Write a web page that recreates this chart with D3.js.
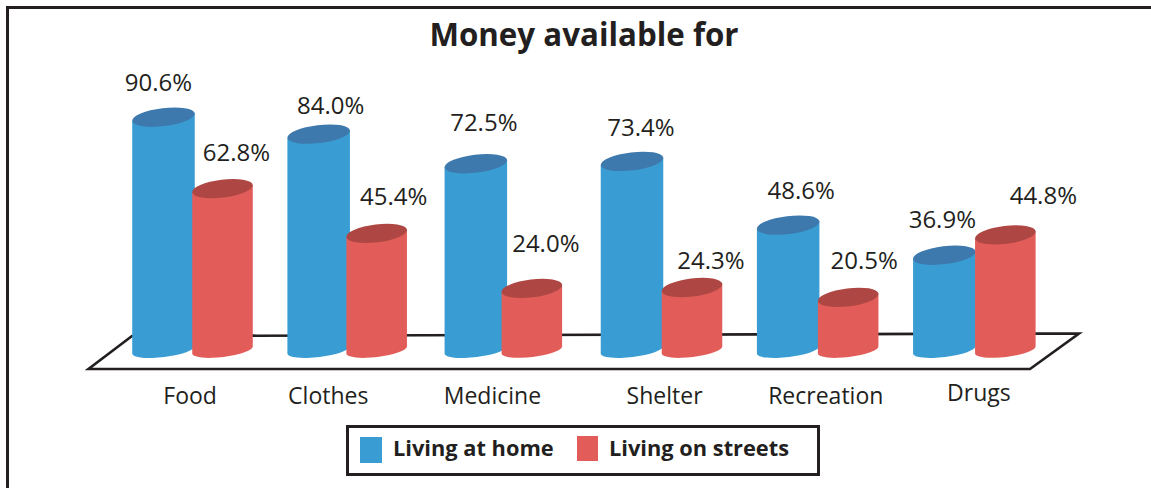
<!DOCTYPE html>
<html><head><meta charset="utf-8">
<script src="https://cdn.jsdelivr.net/npm/d3@7"></script>
<style>html,body{margin:0;background:#fff}svg{display:block}text{font-family:"Open Sans",sans-serif;fill:#231f20}</style>
</head><body><svg id="c" width="1151" height="488"></svg>
<script>
const categories=["Food","Clothes","Medicine","Shelter","Recreation","Drugs"];
const seriesNames=["Living at home","Living on streets"];
const livingAtHome=[90.6,84.0,72.5,73.4,48.6,36.9];
const livingOnStreets=[62.8,45.4,24.0,24.3,20.5,44.8];
const title="Money available for";
// hand-placed nudges from the source artwork
const homeNudge=[[-5,-34],[12,-28],[8,-41],[9,-33],[13,-34],[-2,-35]];
const streetNudge=[[14,-36],[17,-36],[14,-44],[19,-27],[16,-36],[38,-39]];
const streetShift=[-1,-3,-4,0,0,1];
const catNudge=[-20,-38,-30,-14,-9,-12];
const colors={home:"#399dd3",homeTop:"#3e79ad",street:"#e25d59",streetTop:"#ae4743",ink:"#231f20"};

const svg=d3.select("#c");
const x=d3.scaleBand().domain(categories).range([132,1069]).paddingInner(0).paddingOuter(0);
const y=d3.scaleLinear().domain([0,100]).range([350,93]);
const ry=9,ryBase=7,tilt=-7;
const rad=tilt*Math.PI/180;

svg.append("path").attr("d","M7.5,488V7.5H1151").attr("fill","none").attr("stroke",colors.ink).attr("stroke-width",3);
svg.append("text").attr("x",584).attr("y",46).attr("text-anchor","middle").attr("font-weight",700).attr("font-size",31.3).text(title);

svg.append("path").attr("d",d3.line()([[88.5,369],[1030,369],[1079,333.5],[132,336]])+"Z")
 .attr("fill","#fff").attr("stroke",colors.ink).attr("stroke-width",2.6);

function cyl(g,cx,val,fill,top,w){
  const r=w/2, yt=y(val), yb=y(0);
  const dx=r*Math.cos(rad), dy=r*Math.sin(rad);
  g.append("path").attr("d",`M${cx-dx},${yt-dy}L${cx+dx},${yt+dy}L${cx+dx},${yb+dy}A${r},${ryBase} ${tilt} 0 1 ${cx-dx},${yb-dy}Z`).attr("fill",fill);
  g.append("ellipse").attr("cx",cx).attr("cy",yt).attr("rx",r).attr("ry",ry).attr("transform",`rotate(${tilt} ${cx} ${yt})`).attr("fill",top);
}
const homeW=63,streetW=61;
categories.forEach((c,i)=>{
  const g=svg.append("g");
  const cxH=x(c)+homeW/2-(i===1?1:0), cxS=x(c)+homeW-2+streetW/2+streetShift[i];
  cyl(g,cxH,livingAtHome[i],colors.home,colors.homeTop,homeW);
  cyl(g,cxS,livingOnStreets[i],colors.street,colors.streetTop,streetW);
  svg.append("text").attr("x",cxH+homeNudge[i][0]).attr("y",y(livingAtHome[i])+homeNudge[i][1]+8).attr("text-anchor","middle").attr("font-size",24).text(d3.format(".1f")(livingAtHome[i])+"%");
  svg.append("text").attr("x",cxS+streetNudge[i][0]).attr("y",y(livingOnStreets[i])+streetNudge[i][1]+8).attr("text-anchor","middle").attr("font-size",24).text(d3.format(".1f")(livingOnStreets[i])+"%");
  svg.append("text").attr("x",x(c)+x.bandwidth()/2+catNudge[i]).attr("y",i===5?401:404).attr("text-anchor","middle").attr("font-size",23).text(c);
});

const lg=svg.append("g");
lg.append("rect").attr("x",347.5).attr("y",426.5).attr("width",471).attr("height",48).attr("fill","#fff").attr("stroke",colors.ink).attr("stroke-width",3);
[[360,seriesNames[0],colors.home,393,437,22,26],[577,seriesNames[1],colors.street,609,436,21,25]].forEach(d=>{
  lg.append("rect").attr("x",d[0]).attr("y",d[4]).attr("width",d[5]).attr("height",d[6]).attr("fill",d[2]);
  lg.append("text").attr("x",d[3]).attr("y",456).attr("font-weight",700).attr("font-size",21.8).text(d[1]);
});
</script></body></html>
